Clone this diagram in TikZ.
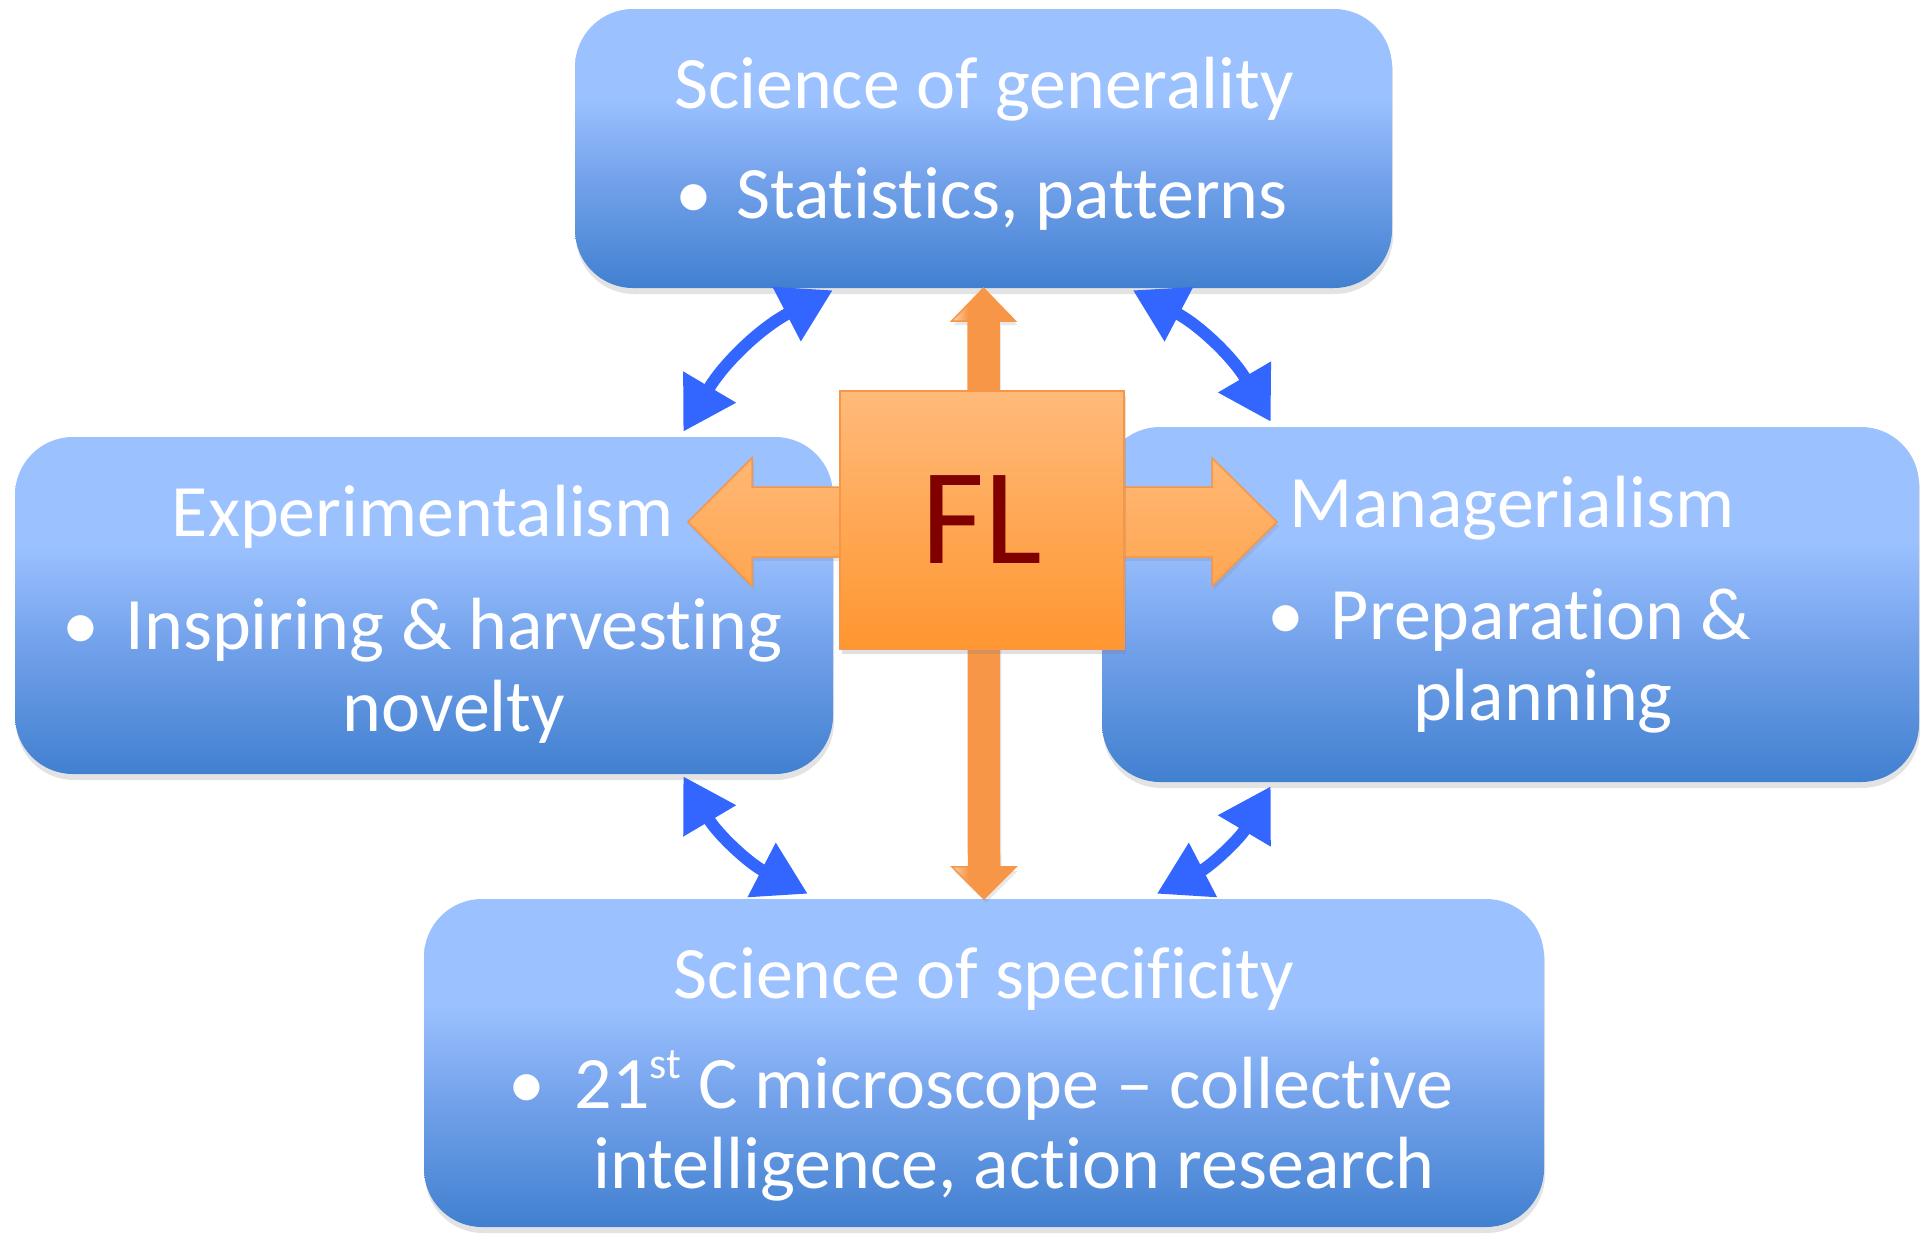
\documentclass[tikz,border=0pt]{standalone}
\usepackage{fontspec}
\setmainfont{Carlito}[Ligatures=CommonOff]
\usetikzlibrary{arrows.meta,calc,shadows}

\definecolor{boxtop}{RGB}{155,193,255}
\definecolor{boxmid}{RGB}{114,161,234}
\definecolor{boxbot}{RGB}{65,128,208}
\definecolor{flTop}{RGB}{255,186,122}
\definecolor{flBot}{RGB}{255,150,48}
\definecolor{flEdge}{RGB}{247,150,70}
\definecolor{flPale}{RGB}{253,214,178}
\definecolor{flText}{RGB}{128,0,0}
\definecolor{linkBlue}{RGB}{51,102,255}

% panel fill: light upper third, darkening towards the bottom
\pgfdeclareverticalshading{boxfade}{100bp}{color(0bp)=(boxbot); color(25bp)=(boxbot); color(44bp)=(boxmid); color(59bp)=(boxtop); color(75bp)=(boxtop); color(100bp)=(boxtop)}
% vertical orange shaft: pale left rim, orange body
\pgfdeclarehorizontalshading{shaftfade}{100bp}{color(0bp)=(flPale); color(25bp)=(flPale); color(38bp)=(flEdge); color(75bp)=(flEdge); color(100bp)=(flEdge)}

\tikzset{
  panel/.style={draw=none, rounded corners=58pt, shade, shading=boxfade,
    drop shadow={shadow xshift=1pt, shadow yshift=-6pt, opacity=0.22}, inner sep=0pt},
  lbl/.style={text=white, font=\fontsize{74}{81}\selectfont, inner sep=0pt, anchor=base},
  link/.style={draw=linkBlue, line width=12pt,
    arrows={Triangle[length=52pt,width=58pt]-Triangle[length=52pt,width=58pt]}},
  vshaft/.style={draw=flEdge, line width=1.5pt, shade, shading=shaftfade, line join=miter,
    drop shadow={shadow xshift=2pt, shadow yshift=-4pt, opacity=0.18}},
  hshaft/.style={draw=flEdge, line width=1.5pt, top color=flTop!92!flBot, bottom color=flTop!45!flBot,
    line join=miter, drop shadow={shadow xshift=2pt, shadow yshift=-4pt, opacity=0.18}},
  flbox/.style={draw=flEdge, line width=2pt, top color=flTop, bottom color=flBot,
    minimum width=284pt, minimum height=258pt, inner sep=0pt,
    drop shadow={shadow xshift=2pt, shadow yshift=-5pt, opacity=0.25},
    text=flText, font=\fontsize{137}{137}\selectfont}
}

\begin{document}
\begin{tikzpicture}[x=1pt, y=-1pt]
\useasboundingbox (0,0) rectangle (1920,1234);

% the four panels
\node[panel, minimum width=817pt, minimum height=279pt] (top) at (983.5,148.5) {};
\node[panel, minimum width=818pt, minimum height=337pt] (left) at (424,605.5) {};
\node[panel, minimum width=817pt, minimum height=355pt] (right) at (1510.5,604.5) {};
\node[panel, minimum width=1120pt, minimum height=328pt] (bottom) at (984,1063) {};

% panel texts
\node[lbl] (topT) at (984,108) {Science of generality};
\node[lbl] (topB) at (694,218) {•};
\node[lbl, anchor=base west] (topL) at (736,218) {Statistics, patterns};

\node[lbl] (leftT) at (423,536) {Experimentalism};
\node[lbl] (leftB) at (81,649) {•};
\node[lbl] (leftL1) at (454,649) {Inspiring \& harvesting};
\node[lbl] (leftL2) at (454,731) {novelty};

\node[lbl] (rightT) at (1512,527) {Managerialism};
\node[lbl] (rightB) at (1286,639) {•};
\node[lbl] (rightL1) at (1541,639) {Preparation \&};
\node[lbl] (rightL2) at (1543,720) {planning};

\node[lbl] (botT) at (984,998) {Science of specificity};
\node[lbl] (botB) at (527,1108) {•};
\node[lbl] (botL1) at (1014,1108) {21\raisebox{30pt}{\fontsize{44}{44}\selectfont st} C microscope – collective};
\node[lbl] (botL2) at (1014,1188) {intelligence, action research};

% blue two-way links between neighbouring panels
\coordinate (a1s) at ($(top.south west)+(258,2)$);
\coordinate (a1e) at ($(left.north east)+(-150,-5)$);
\coordinate (a2s) at ($(top.south west)+(558,2)$);
\coordinate (a2e) at ($(right.north west)+(169,-5)$);
\coordinate (a3s) at ($(left.south east)+(-150,2)$);
\coordinate (a3e) at ($(bottom.north west)+(384,-5)$);
\coordinate (a4s) at ($(right.south west)+(169,4)$);
\coordinate (a4e) at ($(bottom.north west)+(733,-5)$);
\draw[link] (a1s) to[bend right=16] (a1e);
\draw[link] (a2s) to[bend left=16] (a2e);
\draw[link] (a3s) to[bend right=16] (a3e);
\draw[link] (a4s) to[bend left=16] (a4e);

% orange arrows radiating from the centre
\coordinate (flc) at (982,520);
\coordinate (vt) at (top.south);
\coordinate (vb) at (bottom.north);
\path[vshaft] (vt) -- ($(vt)+(32,33)$) -- ($(vt)+(15.5,33)$) -- ($(vb)+(15.5,-32)$)
  -- ($(vb)+(32,-32)$) -- (vb) -- ($(vb)+(-32,-32)$) -- ($(vb)+(-15.5,-32)$)
  -- ($(vt)+(-15.5,33)$) -- ($(vt)+(-32,33)$) -- cycle;

\coordinate (hl) at ($(flc)+(-294,2)$);
\coordinate (hr) at ($(flc)+(295,2)$);
\path[hshaft] (hl) -- ($(hl)+(64,-64)$) -- ($(hl)+(64,-35)$) -- ($(hr)+(-65,-35)$)
  -- ($(hr)+(-65,-64)$) -- (hr) -- ($(hr)+(-65,64)$) -- ($(hr)+(-65,35)$)
  -- ($(hl)+(64,35)$) -- ($(hl)+(64,64)$) -- cycle;

\node[flbox] (fl) at (flc) {FL};
\end{tikzpicture}
\end{document}
